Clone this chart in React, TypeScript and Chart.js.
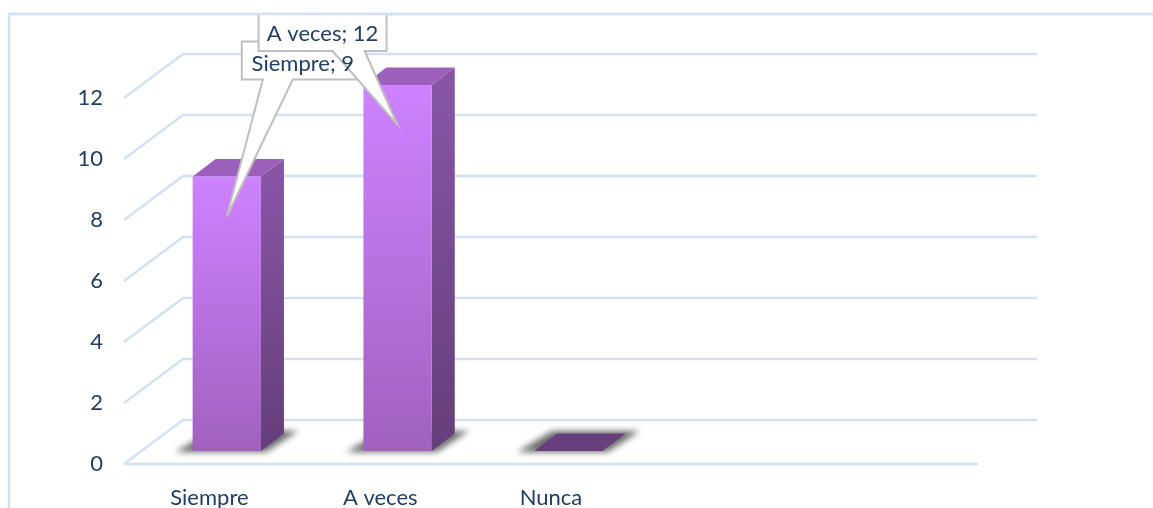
import React, { useEffect, useRef } from "react";
import { Chart, registerables } from "chart.js";

Chart.register(...registerables);

const categories = ["Siempre", "A veces", "Nunca", "", ""];
const values = [9, 12, 0];
const yTicks = [0, 2, 4, 6, 8, 10, 12];

const GRID = "#d3e2f3";
const TEXT = "#1f3f68";
const FONT = "Lato";
const FONT_SIZE = 22;

// oblique projection of the 3D box
const WALL_DX = 59;
const WALL_DY = -44;
const PLANE_DX = 17.4;
const PLANE_DY = -13;
const DEPTH_DX = 23;
const DEPTH_DY = -17.5;

const callouts = [
  { left: 15, right: 137, top: -175, bottom: -137, baseA: 36, baseB: 66, textY: -153, textX: 76 },
  { left: -139, right: -11, top: -111, bottom: -74, baseA: -65, baseB: -33, textY: -91, textX: -75 },
];

function poly(ctx: CanvasRenderingContext2D, pts: number[][]) {
  ctx.beginPath();
  pts.forEach((p, i) => (i ? ctx.lineTo(p[0], p[1]) : ctx.moveTo(p[0], p[1])));
  ctx.closePath();
}

const scene = {
  id: "scene",
  beforeDraw(chart: any) {
    const { ctx } = chart;
    ctx.save();
    ctx.strokeStyle = GRID;
    ctx.lineWidth = 2.5;
    ctx.beginPath();
    ctx.moveTo(9, 508);
    ctx.lineTo(9, 14);
    ctx.lineTo(1153, 14);
    ctx.stroke();
    ctx.restore();
  },
  beforeDatasetsDraw(chart: any) {
    const { ctx, chartArea: a, scales } = chart;
    const y = scales.y;
    ctx.save();
    ctx.strokeStyle = GRID;
    ctx.lineWidth = 2.5;
    yTicks.forEach((v) => {
      const py = y.getPixelForValue(v);
      ctx.beginPath();
      ctx.moveTo(a.left, py);
      ctx.lineTo(a.left + WALL_DX, py + WALL_DY);
      ctx.lineTo(a.right + WALL_DX, py + WALL_DY);
      ctx.stroke();
    });
    const p0 = y.getPixelForValue(0);
    ctx.beginPath();
    ctx.moveTo(a.left, p0);
    ctx.lineTo(a.right, p0);
    ctx.stroke();

    const bars = chart.getDatasetMeta(0).data;
    bars.forEach((bar: any) => {
      const l = bar.x - bar.width / 2 + PLANE_DX;
      const r = bar.x + bar.width / 2 + PLANE_DX;
      const b = bar.base + PLANE_DY;
      ctx.save();
      ctx.filter = "blur(3px)";
      ctx.fillStyle = "rgba(70,70,70,0.8)";
      poly(ctx, [[l - 17, b + 1], [r + 5, b + 1], [r + 37, b - 20], [l + 18, b - 20]]);
      ctx.fill();
      ctx.restore();
    });
    bars.forEach((bar: any, i: number) => {
      const l = bar.x - bar.width / 2 + PLANE_DX;
      const r = bar.x + bar.width / 2 + PLANE_DX;
      const t = bar.y + PLANE_DY;
      const b = bar.base + PLANE_DY;
      const side = ctx.createLinearGradient(0, t, 0, b);
      side.addColorStop(0, "#8855a6");
      side.addColorStop(1, "#643f7a");
      ctx.fillStyle = side;
      poly(ctx, [[r, t], [r + DEPTH_DX, t + DEPTH_DY], [r + DEPTH_DX, b + DEPTH_DY], [r, b]]);
      ctx.fill();
      ctx.fillStyle = values[i] === 0 ? "#673f7c" : "#9c5fbc";
      poly(ctx, [[l, t], [l + DEPTH_DX, t + DEPTH_DY], [r + DEPTH_DX, t + DEPTH_DY], [r, t]]);
      ctx.fill();
    });
    ctx.restore();
    ctx.save();
    ctx.translate(PLANE_DX, PLANE_DY);
  },
  afterDatasetsDraw(chart: any) {
    const { ctx } = chart;
    ctx.restore();
    const bars = chart.getDatasetMeta(0).data;
    ctx.save();
    const shapes = callouts.map((c, i) => {
      const tipX = bars[i].x + PLANE_DX;
      const tipY = bars[i].y + PLANE_DY + 40;
      return { c, i, tipX, tipY };
    });
    shapes.forEach(({ c, tipX, tipY }) => {
      poly(ctx, [
        [tipX + c.left, tipY + c.top],
        [tipX + c.right, tipY + c.top],
        [tipX + c.right, tipY + c.bottom],
        [tipX + c.baseB, tipY + c.bottom],
        [tipX, tipY],
        [tipX + c.baseA, tipY + c.bottom],
        [tipX + c.left, tipY + c.bottom],
      ]);
      ctx.fillStyle = "#ffffff";
      ctx.fill();
      ctx.strokeStyle = "#bfbfbf";
      ctx.lineWidth = 2;
      ctx.stroke();
    });
    ctx.fillStyle = TEXT;
    ctx.font = `${FONT_SIZE}px ${FONT}`;
    ctx.textAlign = "center";
    ctx.textBaseline = "middle";
    shapes.forEach(({ c, i, tipX, tipY }) => {
      ctx.fillText(`${categories[i]}; ${values[i]}`, tipX + c.textX, tipY + c.textY);
    });
    // frame line runs over the clipped upper callout
    ctx.strokeStyle = GRID;
    ctx.lineWidth = 2.5;
    ctx.beginPath();
    ctx.moveTo(9, 14);
    ctx.lineTo(1153, 14);
    ctx.stroke();
    ctx.restore();
  },
};

export default function App() {
  const ref = useRef<HTMLCanvasElement>(null);
  useEffect(() => {
    if (!ref.current) return;
    const chart = new Chart(ref.current, {
      type: "bar",
      data: {
        labels: categories,
        datasets: [
          {
            data: values,
            barPercentage: 0.4,
            categoryPercentage: 1,
            backgroundColor: (c: any) => {
              const y = c.chart.scales?.y;
              if (!y || c.parsed == null || !c.chart.chartArea) return "#b56fe0";
              const g = c.chart.ctx.createLinearGradient(0, y.getPixelForValue(c.parsed.y), 0, y.getPixelForValue(0));
              g.addColorStop(0, "#ce82ff");
              g.addColorStop(1, "#a061bf");
              return g;
            },
          },
        ],
      },
      options: {
        responsive: false,
        animation: false,
        layout: { padding: { top: 98, right: 175, left: 0, bottom: 0 } },
        plugins: { legend: { display: false }, tooltip: { enabled: false } },
        scales: {
          x: {
            grid: { display: false, drawTicks: false },
            border: { display: false },
            ticks: {
              color: TEXT,
              font: { family: FONT, size: FONT_SIZE },
              maxRotation: 0,
              autoSkip: false,
              padding: 21,
            },
            afterFit: (s: any) => {
              s.height = 44;
            },
          },
          y: {
            min: 0,
            max: 12,
            grid: { display: false, drawTicks: false },
            border: { display: false },
            ticks: {
              stepSize: 2,
              color: TEXT,
              font: { family: FONT, size: FONT_SIZE },
              padding: 21,
            },
            afterFit: (s: any) => {
              s.width = 124;
            },
          },
        },
      },
      plugins: [scene],
    } as any);
    return () => chart.destroy();
  }, []);
  return (
    <canvas
      ref={ref}
      width={1153}
      height={508}
      style={{ position: "absolute", left: 0, top: 0, width: 1153, height: 508, display: "block" }}
    />
  );
}
